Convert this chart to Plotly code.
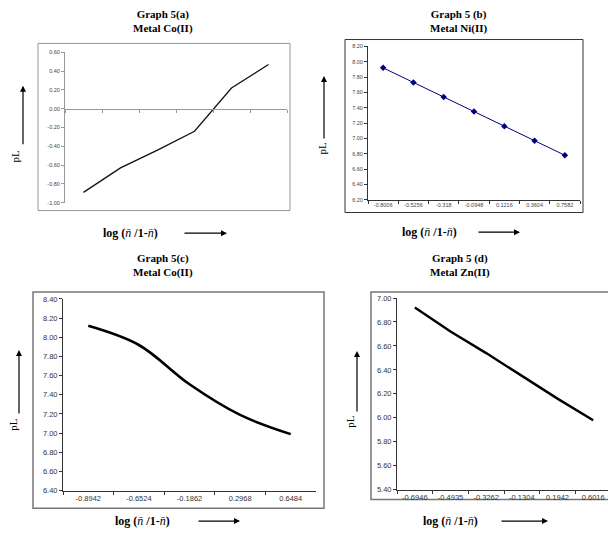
import plotly.graph_objects as go

# The page body has an 8px default margin, so every reference pixel position is
# shifted by that offset and the figure is drawn 8px smaller.
OFF = 8
W, H = 616 - OFF, 533 - OFF

# ---------------- data ----------------
a_categories = ["1", "2", "3", "4", "5", "6"]
a_pL = [-0.89, -0.63, -0.44, -0.24, 0.22, 0.47]
a_yticks = [-1.0, -0.8, -0.6, -0.4, -0.2, 0.0, 0.2, 0.4, 0.6]
a_yticktext = ["-1.00", "-0.80", "-0.60", "-0.40", "-0.20", "0.00", "0.20", "0.40", "0.60"]

b_categories = ["-0.8006", "-0.5256", "-0.318", "-0.0948", "0.1216", "0.3604", "0.7582"]
b_pL = [7.92, 7.73, 7.54, 7.35, 7.16, 6.97, 6.78]
b_yticks = [6.2, 6.4, 6.6, 6.8, 7.0, 7.2, 7.4, 7.6, 7.8, 8.0, 8.2]
b_yticktext = ["6.20", "6.40", "6.60", "6.80", "7.00", "7.20", "7.40", "7.60", "7.80", "8.00", "8.20"]

c_categories = ["-0.8942", "-0.6524", "-0.1862", "0.2968", "0.6484"]
c_pL = [8.12, 7.92, 7.51, 7.19, 6.99]
c_yticks = [6.4, 6.6, 6.8, 7.0, 7.2, 7.4, 7.6, 7.8, 8.0, 8.2, 8.4]
c_yticktext = ["6.40", "6.60", "6.80", "7.00", "7.20", "7.40", "7.60", "7.80", "8.00", "8.20", "8.40"]

d_categories = ["-0.6946", "-0.4935", "-0.3262", "-0.1304", "0.1942", "0.6016"]
d_pL = [6.92, 6.72, 6.54, 6.35, 6.16, 5.98]
d_yticks = [5.4, 5.6, 5.8, 6.0, 6.2, 6.4, 6.6, 6.8, 7.0]
d_yticktext = ["5.40", "5.60", "5.80", "6.00", "6.20", "6.40", "6.60", "6.80", "7.00"]

titles = [("Graph 5(a)", "Metal Co(II)"), ("Graph 5 (b)", "Metal Ni(II)"),
          ("Graph 5(c)", "Metal Co(II)"), ("Graph 5 (d)", "Metal Zn(II)")]


def fx(p):
    return (p - OFF) / W


def fy(p):
    return 1 - (p - OFF) / H


fig = go.Figure()

fig.add_trace(go.Scatter(x=a_categories, y=a_pL, mode="lines",
                         line=dict(color="#111", width=1.3), xaxis="x", yaxis="y"))
fig.add_trace(go.Scatter(x=b_categories, y=b_pL, mode="lines+markers",
                         line=dict(color="#000080", width=1),
                         marker=dict(symbol="diamond", size=5, color="#000080"),
                         xaxis="x2", yaxis="y2"))
fig.add_trace(go.Scatter(x=c_categories, y=c_pL, mode="lines",
                         line=dict(color="#000", width=2.6, shape="spline", smoothing=1.0),
                         xaxis="x3", yaxis="y3"))
fig.add_trace(go.Scatter(x=d_categories, y=d_pL, mode="lines",
                         line=dict(color="#000", width=2.4), xaxis="x4", yaxis="y4"))

tick_small = dict(family="Liberation Sans, Arial", size=5.5, color="#444")
tick_big = dict(family="Liberation Sans, Arial", size=7.5, color="#333")

# panel a
a_ydom = [fy(202), fy(49)]
a_zero_pos = a_ydom[0] + (0 - (-1.0)) / 1.6 * (a_ydom[1] - a_ydom[0])
fig.update_layout(
    xaxis=dict(domain=[fx(65), fx(287)], anchor="free", position=a_zero_pos,
               type="category", range=[-0.5, 5.5], showticklabels=False,
               showline=True, linecolor="#999", linewidth=1, ticks="outside",
               tickson="boundaries", ticklen=3, tickcolor="#999", showgrid=False,
               zeroline=False),
    yaxis=dict(domain=a_ydom, anchor="x", range=[-1.0, 0.6], tickvals=a_yticks,
               ticktext=a_yticktext, showline=True, linecolor="#999", ticks="outside",
               ticklen=3, tickcolor="#999", showgrid=False, zeroline=False,
               tickfont=tick_small),
    xaxis2=dict(domain=[fx(368), fx(580)], anchor="y2", type="category",
                range=[-0.5, 6.5], showline=True, linecolor="#333", ticks="outside",
                tickson="boundaries", ticklen=3, tickcolor="#333", showgrid=False,
                tickfont=tick_small),
    yaxis2=dict(domain=[fy(199), fy(43)], anchor="x2", range=[6.2, 8.2], tickvals=b_yticks,
                ticktext=b_yticktext, showline=True, linecolor="#333", ticks="outside",
                ticklen=3, tickcolor="#333", showgrid=False, zeroline=False,
                tickfont=tick_small),
    xaxis3=dict(domain=[fx(63), fx(316)], anchor="y3", type="category",
                range=[-0.5, 4.5], showline=True, linecolor="#333", ticks="outside",
                tickson="boundaries", ticklen=3, tickcolor="#333", showgrid=False,
                tickfont=tick_big),
    yaxis3=dict(domain=[fy(495), fy(300)], anchor="x3", range=[6.4, 8.4], tickvals=c_yticks,
                ticktext=c_yticktext, showline=True, linecolor="#333", ticks="outside",
                ticklen=3, tickcolor="#333", showgrid=False, zeroline=False,
                tickfont=tick_big),
    xaxis4=dict(domain=[fx(397), fx(611)], anchor="y4", type="category",
                range=[-0.5, 5.5], showline=True, linecolor="#333", ticks="outside",
                tickson="boundaries", ticklen=3, tickcolor="#333", showgrid=False,
                tickfont=tick_big),
    yaxis4=dict(domain=[fy(494), fy(299)], anchor="x4", range=[5.4, 7.0], tickvals=d_yticks,
                ticktext=d_yticktext, showline=True, linecolor="#333", ticks="outside",
                ticklen=3, tickcolor="#333", showgrid=False, zeroline=False,
                tickfont=tick_big),
)

# frames
frames = [((38, 40, 290, 210), "#999", 1), ((345, 36, 583, 212), "#333", 1),
          ((33, 293, 324, 513), "#777", 1.5), ((371, 293, 625, 504), "#777", 1.5)]
shapes = []
for (x0, y0, x1, y1), col, w in frames:
    shapes.append(dict(type="rect", xref="paper", yref="paper", x0=fx(x0), x1=fx(x1),
                       y0=fy(y1), y1=fy(y0), line=dict(color=col, width=w),
                       fillcolor="rgba(0,0,0,0)", layer="below"))
fig.update_layout(shapes=shapes)

serif = "Liberation Serif, Times New Roman, serif"
ann = []
title_pos = [(163, 18), (458, 18), (163, 266), (460, 266)]
for (t1, t2), (cx, cy) in zip(titles, title_pos):
    ann.append(dict(text="<b>%s</b><br><b>%s</b>" % (t1, t2), x=fx(cx), y=fy(cy),
                    xref="paper", yref="paper", xanchor="center", yanchor="middle",
                    showarrow=False, font=dict(family=serif, size=11, color="#000")))

xlabel = "<b>log (</b><i>n\u0304</i> <b>/1-</b><i>n\u0304</i><b>)</b>"
# (label center x, label y, arrow x0, arrow x1)
xlab_pos = [(130, 233, 183, 227), (429, 232, 477, 520), (142, 526, 197, 240), (451, 526, 500, 548)]
for cx, cy, a0, a1 in xlab_pos:
    ann.append(dict(text=xlabel, x=fx(cx), y=fy(cy), xref="paper", yref="paper",
                    xanchor="center", yanchor="middle",
                    showarrow=False, font=dict(family=serif, size=12, color="#000")))
    ann.append(dict(text="", x=fx(a1), y=fy(cy), xref="paper", yref="paper",
                    showarrow=True, ax=a0 - a1, ay=0, arrowhead=2, arrowsize=1,
                    arrowwidth=1.2, arrowcolor="#000"))

# (pL x, pL y, arrow x, arrow bottom y, arrow top y)
ylab_pos = [(15, 155, 23, 143, 83), (322, 147, 324, 137, 73),
            (13, 428, 19, 417, 352), (350, 425, 357, 415, 353)]
for lx, ly, axp, yb, yt in ylab_pos:
    ann.append(dict(text="pL", x=fx(lx), y=fy(ly), xref="paper", yref="paper",
                    xanchor="center", yanchor="middle",
                    showarrow=False, textangle=-90,
                    font=dict(family=serif, size=11, color="#000")))
    ann.append(dict(text="", x=fx(axp), y=fy(yt), xref="paper", yref="paper",
                    showarrow=True, ax=0, ay=yb - yt, arrowhead=2, arrowsize=1,
                    arrowwidth=1.2, arrowcolor="#000"))

fig.update_layout(annotations=ann, width=W, height=H, margin=dict(l=0, r=0, t=0, b=0),
                  showlegend=False, paper_bgcolor="white", plot_bgcolor="white")

fig.write_html("out.html")
